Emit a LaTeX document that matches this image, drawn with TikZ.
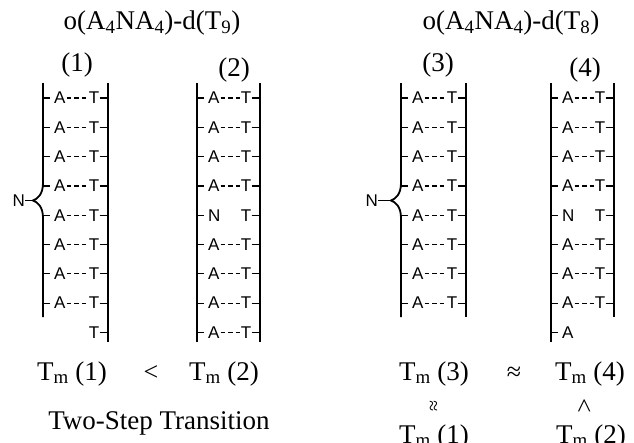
\documentclass[tikz,border=0pt]{standalone}
\usepackage{fontspec}
\setmainfont{Liberation Serif}
\setsansfont{Liberation Sans}
\usetikzlibrary{positioning}

% one base pair: left strand x, right strand x, y, left base, right base, bond style
\newcommand{\rung}[6]{%
  \node[base, anchor=west] (bl) at ({#1+11},#3) {#4};
  \node[base, anchor=east] (br) at ({#2-8.5},#3) {#5};
  \draw[tick] (#1,#3) -- ++(7,0);
  \draw[tick] (br.east) -- (#2,#3);
  \draw[#6] (bl.east) -- (br.west);
}

\begin{document}
\begin{tikzpicture}[x=1pt, y=-1pt,
        strand/.style={line width=1.8pt},
        tick/.style={line width=1.2pt},
        hbond/.style={line width=1.2pt, dash pattern=on 4.5pt off 3pt,
            shorten <=1pt, shorten >=1pt},
        base/.style={font=\sffamily\fontsize{17}{17}\selectfont, inner sep=0pt},
        lbl/.style={font=\fontsize{27}{27}\selectfont, inner sep=0pt},
        rel/.style={font=\fontsize{26}{26}\selectfont, inner sep=0pt}
    ]
    \useasboundingbox (0,0) rectangle (634,442);
    \clip (0,0) rectangle (634,442);

    % titles
    \node[lbl] (tl) at (152,23) {o(A\textsubscript{4}NA\textsubscript{4})-d(T\textsubscript{9})};
    \node[lbl] (tr) at (511,23) {o(A\textsubscript{4}NA\textsubscript{4})-d(T\textsubscript{8})};
    \node[lbl] (c1) at (77,65) {(1)};
    \node[lbl] (c2) at (234,70) {(2)};
    \node[lbl] (c3) at (438,65) {(3)};
    \node[lbl] (c4) at (585,70) {(4)};

    % duplex (1)
    \coordinate (tip1) at (33,200.5);
    \draw[strand] (43,83) -- (43,183) .. controls (43,195) and (37,199) .. (tip1)
        .. controls (37,202) and (43,206) .. (43,218) -- (43,317);
    \draw[strand] (108,83) -- (108,342);
    \node[base, anchor=east] (n1) at (25,200.5) {N};
    \draw[tick] (n1.east) -- (tip1);
    \foreach \k in {0,...,7}
        \rung{43}{108}{98+29.3*\k}{A}{T}{hbond};
    \node[base, anchor=east] (t1) at (99.5,332.4) {T};
    \draw[tick] (t1.east) -- (108,332.4);

    % duplex (2)
    \draw[strand] (197,83) -- (197,342);
    \draw[strand] (260,83) -- (260,342);
    \foreach \k in {0,1,2,3,5,6,7,8}
        \rung{197}{260}{98+29.3*\k}{A}{T}{hbond};
    \rung{197}{260}{98+29.3*4}{N}{T}{draw=none};

    % duplex (3)
    \coordinate (tip3) at (391,200.5);
    \draw[strand] (401,83) -- (401,183) .. controls (401,195) and (395,199) .. (tip3)
        .. controls (395,202) and (401,206) .. (401,218) -- (401,317);
    \draw[strand] (466,83) -- (466,317);
    \node[base, anchor=east] (n3) at (378,200.5) {N};
    \draw[tick] (n3.east) -- (tip3);
    \foreach \k in {0,...,7}
        \rung{401}{466}{98+29.3*\k}{A}{T}{hbond};

    % duplex (4)
    \draw[strand] (551,83) -- (551,342);
    \draw[strand] (614,83) -- (614,317);
    \foreach \k in {0,1,2,3,5,6,7}
        \rung{551}{614}{98+29.3*\k}{A}{T}{hbond};
    \rung{551}{614}{98+29.3*4}{N}{T}{draw=none};
    \node[base, anchor=west] (a4) at (562,332.4) {A};
    \draw[tick] (551,332.4) -- ++(7,0);

    % melting temperatures
    \node[lbl, anchor=base] (m1) at (72,380) {T\textsubscript{m} (1)};
    \node[rel, anchor=base] (lt) at (151,380) {<};
    \node[lbl, anchor=base] (m2) at (224,380) {T\textsubscript{m} (2)};
    \node[lbl, anchor=base] (two) at (159,429) {Two-Step Transition};

    \node[lbl, anchor=base] (m3) at (434,380) {T\textsubscript{m} (3)};
    \node[rel, anchor=base] (ap) at (514,380) {≈};
    \node[lbl, anchor=base] (m4) at (590,380) {T\textsubscript{m} (4)};
    \node[font=\fontsize{20}{20}\selectfont, inner sep=0pt, rotate=90] (apv) at (435,406) {≈};
    \node[rel, rotate=-90] (ltv) at (583,406) {<};
    \node[lbl, anchor=base] (m1b) at (434,443) {T\textsubscript{m} (1)};
    \node[lbl, anchor=base] (m2b) at (591,443) {T\textsubscript{m} (2)};
\end{tikzpicture}
\end{document}
